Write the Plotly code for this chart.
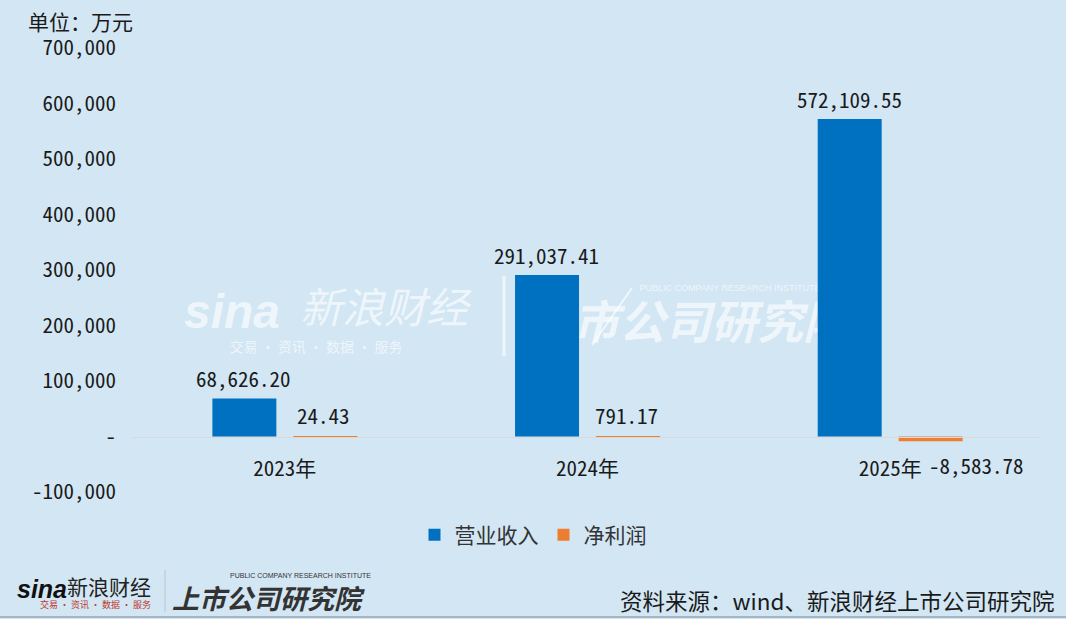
import plotly.graph_objects as go

# ---------------- data ----------------
categories = ["2023年", "2024年", "2025年"]
revenue = [68626.20, 291037.41, 572109.55]
net_profit = [24.43, 791.17, -8583.78]
series_names = ["营业收入", "净利润"]
y_tickvals = [-100000, 0, 100000, 200000, 300000, 400000, 500000, 600000, 700000]
y_ticktext = ["-100,000", "-", "100,000", "200,000", "300,000", "400,000",
              "500,000", "600,000", "700,000"]
unit_text = "单位：万元"
source_text = "资料来源：wind、新浪财经上市公司研究院"

# ---------------- style ----------------
W, H = 1066, 619
L, R, T, B = 132, 26, 48, 127
PW, PH = W - L - R, H - T - B
BG = "#D2E6F4"
BLUE = "#0070C0"
ORANGE = "#ED7D31"
TXT = "#1a1a1a"
NUM_FONT = "Noto Sans Mono CJK SC, Liberation Mono, monospace"
CJK_FONT = "Noto Sans CJK SC, sans-serif"
WM = "rgba(255,255,255,0.66)"
NUM_SIZE = 21


def px(x):
    return (x - L) / PW


def py(y):
    return (H - B - y) / PH


fig = go.Figure()

# ---- watermark (base subplot, drawn beneath the bars) ----
wm_items = [
    ("<b><i>sina</i></b>", 232, 316, 48, "Liberation Sans, sans-serif"),
    ("<i>新浪财经</i>", 384, 312, 42, CJK_FONT),
    ("交易 · 资讯 · 数据 · 服务", 316, 348, 14, CJK_FONT),
    ("<b><i>上市公司研究院</i></b>", 688, 327, 46, CJK_FONT),
    ("PUBLIC COMPANY RESEARCH INSTITUTE", 730, 289, 9, "Liberation Sans, sans-serif"),
]
for txt, x, y, s, f in wm_items:
    fig.add_trace(go.Scatter(x=[x], y=[y], mode="text", text=[txt],
                             textfont=dict(size=s, color=WM, family=f),
                             xaxis="x", yaxis="y", showlegend=False,
                             hoverinfo="skip", cliponaxis=False))
fig.add_trace(go.Scatter(x=[504, 504], y=[276, 356], mode="lines",
                         line=dict(color=WM, width=3), xaxis="x", yaxis="y",
                         showlegend=False, hoverinfo="skip"))
fig.add_trace(go.Scatter(x=[592, 632], y=[345, 288], mode="lines",
                         line=dict(color=WM, width=2), xaxis="x", yaxis="y",
                         showlegend=False, hoverinfo="skip"))

# ---- bars (overlay subplot, drawn on top) ----
fig.add_trace(go.Bar(x=categories, y=revenue, name=series_names[0],
                     marker=dict(color=BLUE, line=dict(width=0)),
                     xaxis="x2", yaxis="y2", hoverinfo="x+y"))
fig.add_trace(go.Bar(x=categories, y=net_profit, name=series_names[1],
                     marker=dict(color=ORANGE, line=dict(width=0)),
                     xaxis="x2", yaxis="y2", hoverinfo="x+y"))

annotations = []
OFF = 41
for cat, v in zip(categories, revenue):
    annotations.append(dict(x=cat, y=v, xref="x2", yref="y2", text=f"{v:,.2f}",
                            showarrow=False, xshift=-OFF, yshift=20,
                            yanchor="middle",
                            font=dict(size=NUM_SIZE, color=TXT, family=NUM_FONT)))
for cat, v in zip(categories, net_profit):
    if v >= 0:
        annotations.append(dict(x=cat, y=v, xref="x2", yref="y2", text=f"{v:,.2f}",
                                showarrow=False, xshift=OFF - 2, yshift=21,
                                yanchor="middle",
                                font=dict(size=NUM_SIZE, color=TXT, family=NUM_FONT)))
    else:
        annotations.append(dict(x=cat, y=v, xref="x2", yref="y2", text=f"{v:,.2f}",
                                showarrow=False, xshift=OFF + 45, yshift=-24,
                                yanchor="middle",
                                font=dict(size=NUM_SIZE, color=TXT, family=NUM_FONT)))

annotations.append(dict(x=px(26), y=py(21), xref="paper", yref="paper",
                        text=unit_text, showarrow=False, xanchor="left",
                        yanchor="middle", font=dict(size=21, color=TXT, family=NUM_FONT)))
annotations.append(dict(x=px(1056), y=py(600), xref="paper", yref="paper",
                        text=source_text, showarrow=False, xanchor="right",
                        yanchor="middle", font=dict(size=22.5, color=TXT, family=CJK_FONT)))

# bottom-left logo
logo = [
    ("<b><i>sina</i></b>", 42, 589, 25, "#111111", "Liberation Sans, sans-serif"),
    ("新浪财经", 109, 586, 21, "#222222", CJK_FONT),
    ("交易 · 资讯 · 数据 · 服务", 95, 604, 9, "#C0392B", CJK_FONT),
    ("<b><i>上市公司研究院</i></b>", 268, 597, 27, "#333333", CJK_FONT),
    ("PUBLIC COMPANY RESEARCH INSTITUTE", 300, 575, 7, "#333333", "Liberation Sans, sans-serif"),
]
for txt, x, y, s, c, f in logo:
    annotations.append(dict(x=px(x), y=py(y), xref="paper", yref="paper", text=txt,
                            showarrow=False, xanchor="center", yanchor="middle",
                            font=dict(size=s, color=c, family=f)))

shapes = [
    dict(type="line", xref="paper", yref="paper", x0=px(165), x1=px(165),
         y0=py(570), y1=py(612), line=dict(color="#B8C4CE", width=1)),
    dict(type="line", xref="paper", yref="paper", x0=px(0), x1=px(W),
         y0=py(617), y1=py(617), line=dict(color="#A7B4C2", width=2)),
]

fig.update_layout(
    width=W, height=H,
    margin=dict(l=L, r=R, t=T, b=B, pad=0),
    paper_bgcolor=BG, plot_bgcolor=BG,
    barmode="group", bargap=0.465, bargroupgap=0.21,
    showlegend=True,
    legend=dict(orientation="h", x=px(533), xanchor="center", y=py(535),
                yanchor="middle", bgcolor="rgba(0,0,0,0)",
                font=dict(size=21, color="#333333", family=CJK_FONT),
                itemwidth=30, traceorder="normal"),
    xaxis=dict(range=[L, W - R], visible=False, fixedrange=True),
    yaxis=dict(range=[H - B, T], visible=False, fixedrange=True),
    xaxis2=dict(overlaying="x", anchor="free", position=0.125,
                type="category", range=[-0.505, 2.495],
                showline=True, linecolor="#D9D9D9", linewidth=1,
                showgrid=False, zeroline=False, ticks="",
                ticklabelstandoff=13,
                tickfont=dict(size=NUM_SIZE, color=TXT, family=NUM_FONT)),
    yaxis2=dict(overlaying="y", anchor="x2", range=[-100000, 700000],
                tickvals=y_tickvals, ticktext=y_ticktext,
                showgrid=False, zeroline=False, showline=False, ticks="",
                ticklabelstandoff=15,
                tickfont=dict(size=NUM_SIZE, color=TXT, family=NUM_FONT)),
    annotations=annotations,
    shapes=shapes,
    hovermode="closest",
)

fig.write_html("out.html", config={"displayModeBar": False},
               post_script="document.body.style.margin='0px';document.body.style.padding='0px';")
